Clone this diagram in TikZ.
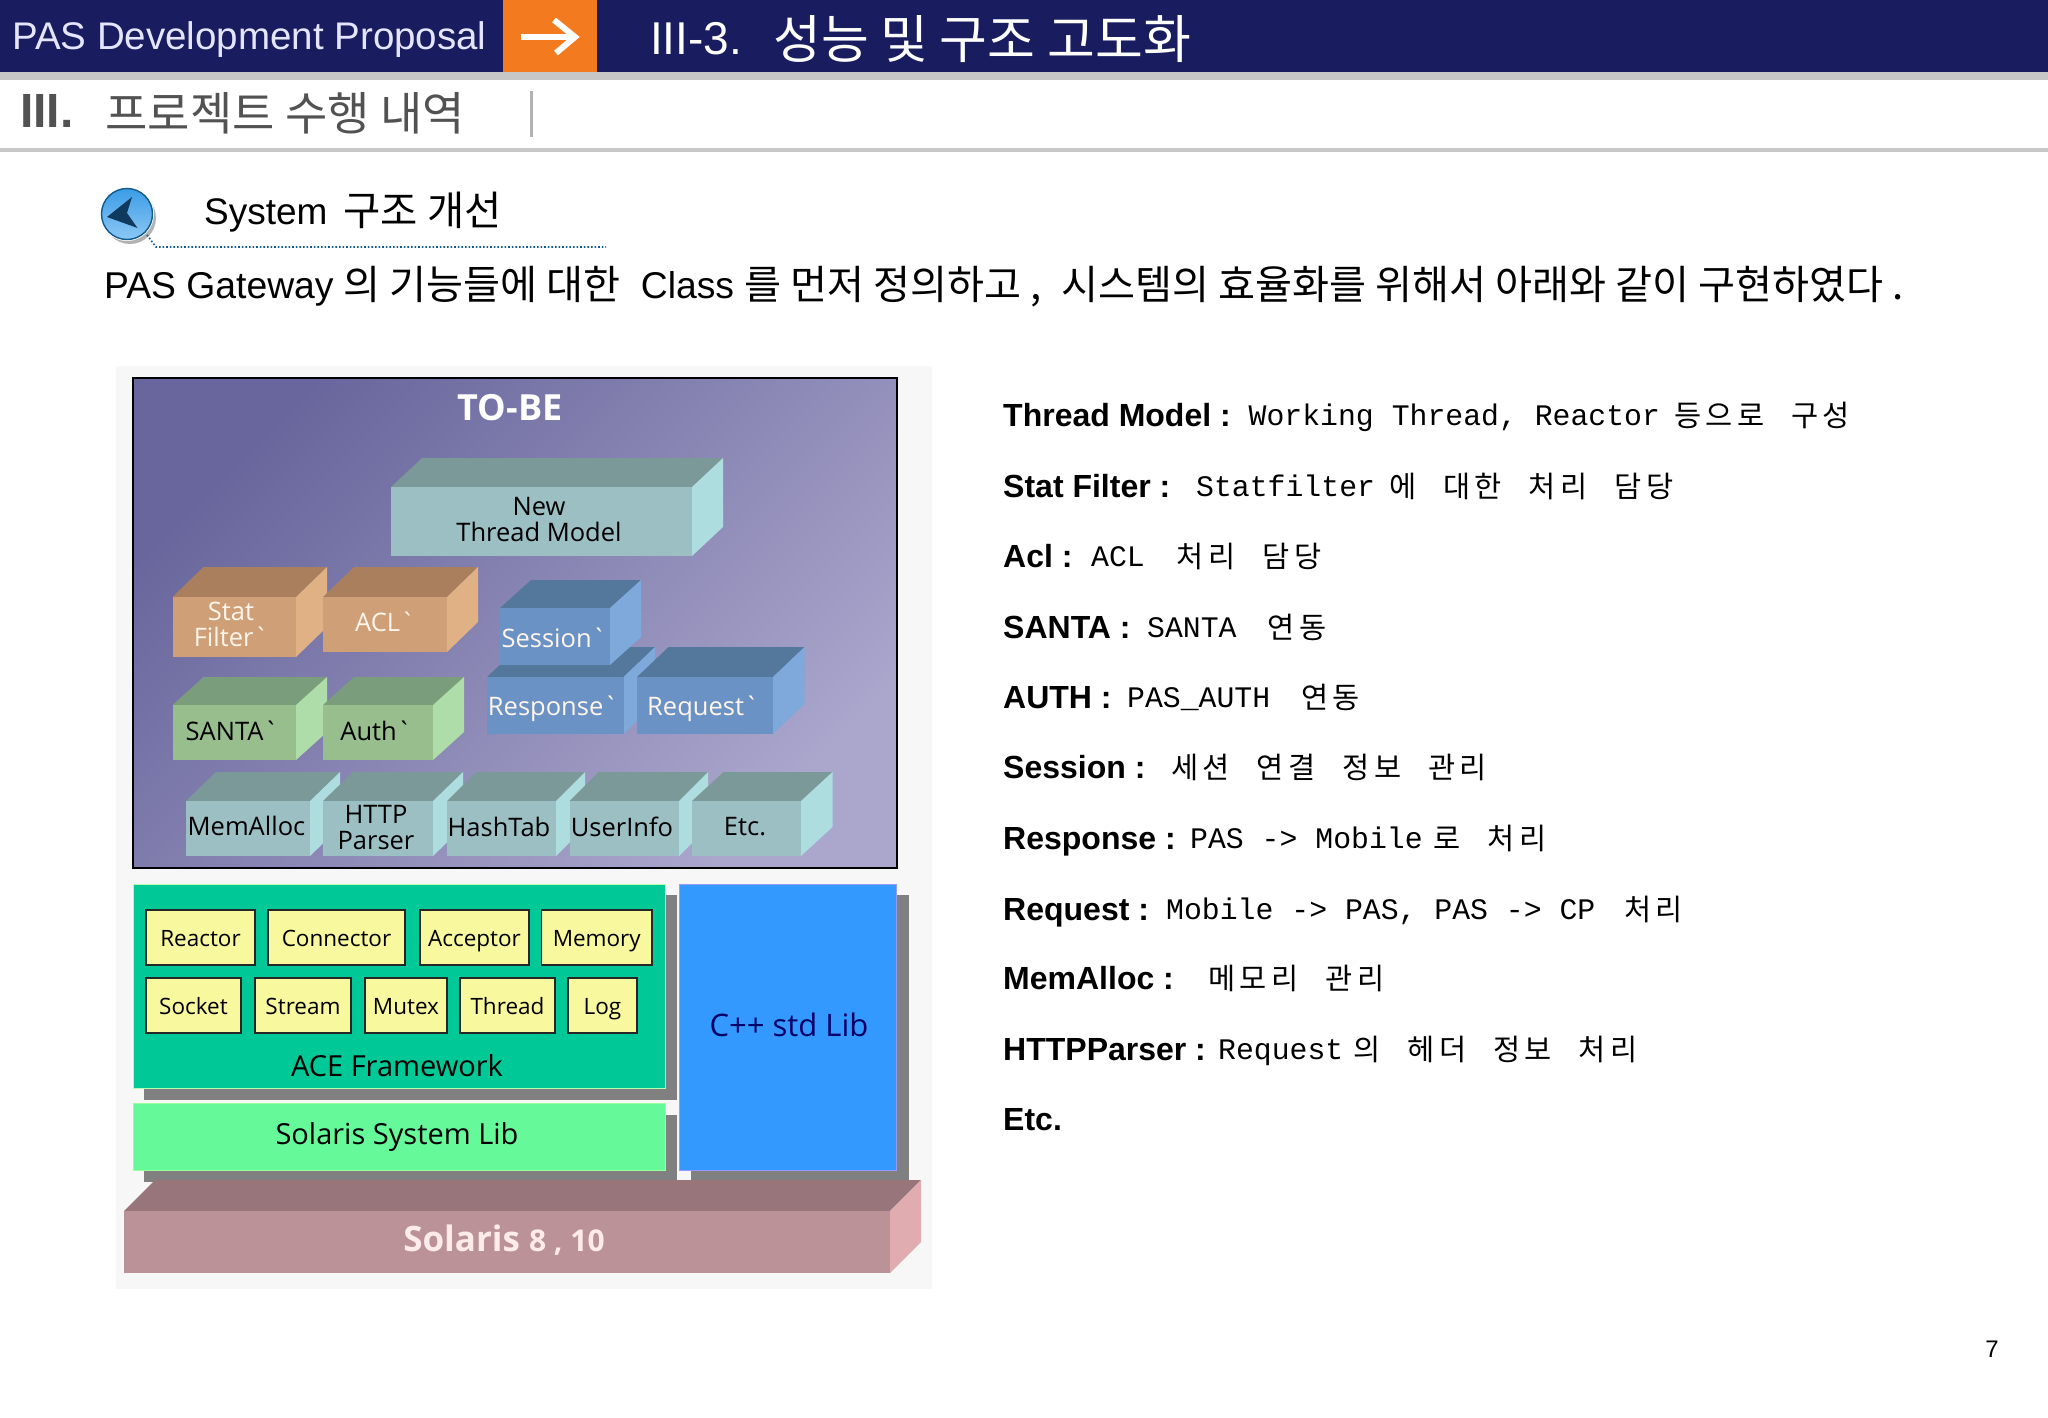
\documentclass[tikz,border=0pt]{standalone}
\usepackage{fontspec}
\setmainfont{Liberation Sans}
\newfontfamily\ar{Liberation Sans}
\newfontfamily\kr{Noto Sans CJK KR}
\newfontfamily\krl[LetterSpace=15]{Noto Sans CJK KR}
\newfontfamily\mon{Liberation Mono}
\newfontfamily\dia{Open Sans}
\definecolor{navy}{HTML}{191C5E}
\definecolor{orng}{HTML}{F47A1F}
\definecolor{tealF}{HTML}{9CBFC3}\definecolor{tealT}{HTML}{7A9998}\definecolor{tealS}{HTML}{AEDDE0}
\definecolor{tanF}{HTML}{CF9F78}\definecolor{tanT}{HTML}{A97F5E}\definecolor{tanS}{HTML}{E0B184}
\definecolor{bluF}{HTML}{6B92C4}\definecolor{bluT}{HTML}{54789C}\definecolor{bluS}{HTML}{7FA8DB}
\definecolor{grnF}{HTML}{98BE8E}\definecolor{grnT}{HTML}{7A9D7C}\definecolor{grnS}{HTML}{AEDDAA}
\definecolor{rosF}{HTML}{BC9299}\definecolor{rosT}{HTML}{98757B}\definecolor{rosS}{HTML}{E0ACB0}
\definecolor{frameA}{RGB}{104,102,156}\definecolor{frameB}{RGB}{170,166,204}
\definecolor{iconA}{HTML}{3C9CE6}\definecolor{iconB}{HTML}{8CC8F5}\definecolor{iconD}{HTML}{0F3A5E}\definecolor{iconE}{HTML}{0F5C8C}
\definecolor{aceG}{RGB}{0,200,150}\definecolor{solG}{RGB}{102,249,154}\definecolor{cppB}{RGB}{51,153,255}
\definecolor{yelF}{HTML}{F8F89E}
\newcommand{\fsz}[1]{\fontsize{#1pt}{#1pt}\selectfont}
\newcommand{\threed}[8]{% name x1 y1 x2 y2 xback yback family
  \pgfmathsetmacro{\dxx}{#6-#4}
  \pgfmathsetmacro{\xa}{#2+\dxx}
  \pgfmathsetmacro{\yb}{#5+#7-#3}
  \fill[#8T] (#2,#3) -- (\xa,#7) -- (#6,#7) -- (#4,#3) -- cycle;
  \fill[#8S] (#4,#3) -- (#6,#7) -- (#6,\yb) -- (#4,#5) -- cycle;
  \fill[#8F] (#2,#3) rectangle (#4,#5);
  \coordinate (#1) at ({(#2+#4)/2},{(#3+#5)/2});
}
\newcommand{\kd}[1]{\raisebox{-1pt}{\krl\fsz{29.5}#1}}
\newcommand{\wg}{\hspace{27pt}}
\tikzset{
  lbl/.style={font=\dia\fsz{25.5},inner sep=0pt,text=black,align=center},
  lblw/.style={lbl,text=white!92!orange},
  ylbl/.style={font=\dia\fsz{22.5},inner sep=0pt,text=black,text height=17pt,text depth=5pt},
  rowb/.style={anchor=base west,inner sep=0pt,font=\ar\bfseries\fsz{32}},
  rowd/.style={anchor=base west,inner sep=0pt,font=\mon\fsz{29.8}},
  shad/.style={fill=black!50},
}
\begin{document}
\begin{tikzpicture}[x=1pt,y=-1pt]
\useasboundingbox (0,0) rectangle (2048,1418);
\fill[white] (0,0) rectangle (2048,1418);
% header
\fill[navy] (0,0) rectangle (2048,72);
\fill[black!22] (0,72) rectangle (2048,80);
\fill[orng] (503,0) rectangle (597,72);
\draw[white,line width=6pt] (521,37) -- (574,37);
\draw[white,line width=6pt] (554,20) -- (575,37) -- (556,53);
\node[anchor=west,inner sep=0pt,text=white!90!blue,font=\ar\fsz{38.5}] (hdr) at (12,40) {PAS Development Proposal};
\node[anchor=west,inner sep=0pt,text=white,font=\ar\fsz{46}] (ttl) at (650,39) {III-3.\hspace{31pt}\raisebox{-3.5pt}{\kr\fsz{52}성능 및 구조 고도화}};
\node[anchor=west,inner sep=0pt,text=black!68,font=\ar\bfseries\fsz{48}] (sec) at (20,113) {III.\hspace{32pt}\raisebox{-3pt}{\kr\mdseries\fsz{46}프로젝트 수행 내역}};
\fill[black!30] (529.5,91) rectangle (533,137);
\fill[black!22] (0,148) rectangle (2048,152);
% icon
\fill[black!30] (130,218) circle (26);
\fill[white] (127,214) circle (27);
\draw[iconE,line width=1.4pt,top color=iconA,bottom color=iconB] (127,214) circle (25.5);
\fill[iconD] (132,197) -- (107,217) -- (137.5,228) -- (127,213) -- cycle;
\draw[iconE,line width=1.6pt,dotted] (147,235) -- (156,247) -- (606,247);
\node[anchor=base west,inner sep=0pt,font=\ar\fsz{37}] (sub) at (204,224) {System\hspace{16pt}\raisebox{-1.5pt}{\kr\fsz{40.5}구조 개선}};
\node[anchor=base west,inner sep=0pt,font=\ar\fsz{37.3}] (intro) at (104,298) {PAS Gateway \raisebox{-1.5pt}{\kr\fsz{40.2}의 기능들에 대한}\hspace{20pt}Class \raisebox{-1.5pt}{\kr\fsz{40.2}를 먼저 정의하고 ,\hspace{20pt}시스템의 효율화를 위해서 아래와 같이 구현하였다 .}};
% panel
\fill[black!3] (116,366) rectangle (932,1289);
\fill[top color=frameA,bottom color=frameB,shading angle=45] (133,378) rectangle (897,868);
\draw[black,line width=1.6pt] (133,378) rectangle (897,868);
\node[font=\dia\bfseries\fsz{36},text=white,inner sep=0pt] (tobe) at (510,408) {TO-BE};
\threed{bThread}{391}{487}{692}{556}{723}{458}{teal}
\threed{bStat}{172.5}{597}{296}{657}{327}{567}{tan}
\threed{bAcl}{323}{597}{447}{652}{478}{567}{tan}
\threed{bResp}{487}{677}{623.5}{734}{655}{647}{blu}
\threed{bReq}{637}{677}{773}{734}{804.5}{647}{blu}
\threed{bSess}{500}{608}{610}{665}{641}{580}{blu}
\threed{bSanta}{172.5}{705}{296}{760}{327}{677}{grn}
\threed{bAuth}{323}{705}{433}{760}{464}{677}{grn}
\threed{bMem}{186}{801}{310}{856}{340}{772}{teal}
\threed{bHttp}{323}{801}{433}{856}{463}{772}{teal}
\threed{bHash}{447}{801}{556}{856}{585}{772}{teal}
\threed{bUser}{569.5}{801}{679}{856}{708}{772}{teal}
\threed{bEtc}{692}{801}{801}{856}{832.5}{772}{teal}
\node[lbl] (tNew) at (539,519.5) {New\\Thread Model};
\node[lblw] (tStat) at (231,624.5) {Stat\\Filter`};
\node[lblw] (tAcl) at (385,622) {ACL`};
\node[lblw] (tSess) at (554,638) {Session`};
\node[lblw] (tResp) at (553,709) {Response`};
\node[lblw] (tReq) at (703,709) {Request`};
\node[lbl] (tSanta) at (232,731) {SANTA`};
\node[lbl] (tAuth) at (376,731) {Auth`};
\node[lbl] (tMem) at (246.5,826) {MemAlloc};
\node[lbl] (tHttp) at (376,827.5) {HTTP\\Parser};
\node[lbl] (tHash) at (499,827) {HashTab};
\node[lbl] (tUser) at (622,827) {UserInfo};
\node[lbl] (tEtc) at (745,827) {Etc.};
% lower stack
\fill[shad] (144,895) rectangle (676.5,1100);
\fill[shad] (144,1115) rectangle (676.5,1182);
\fill[shad] (691,895) rectangle (909,1182);
\draw[white!70!green,line width=1pt,fill=aceG] (133.5,884) rectangle (665,1088);
\draw[white!60!green,line width=1pt,fill=solG] (133.5,1103) rectangle (665,1170);
\draw[white!60!blue,line width=1pt,fill=cppB] (679,884) rectangle (896,1170);
\threed{bSol}{124}{1211}{890}{1273}{921}{1180}{ros}
\foreach \nm/\xa/\xb/\ya/\yb/\tx in {yReact/146/255/910/965/Reactor,yConn/268/405/910/965/Connector,yAcc/420/529/910/965/Acceptor,yMemo/541.5/652/910/965/Memory,ySock/146/241/978/1033/Socket,yStre/255/351/978/1033/Stream,yMutx/365/447/978/1033/Mutex,yThrd/460/555/978/1033/Thread,yLog/568/637/978/1033/Log}{
  \draw[draw=black!85,line width=1.4pt,fill=yelF] (\xa,\ya) rectangle (\xb,\yb);
  \node[ylbl] (\nm) at ({(\xa+\xb)/2},{(\ya+\yb)/2+3}) {\tx};
}
\node[lbl,font=\dia\fsz{29}] (tAce) at (397,1066) {ACE Framework};
\node[lbl,font=\dia\fsz{29}] (tSsl) at (397,1137) {Solaris System Lib};
\node[lbl,font=\dia\fsz{31},text=blue!40!black] (tCpp) at (789,1025) {C++ std Lib};
\node[lbl,font=\dia\bfseries\fsz{35},text=white!92!red] (tSol) at (504,1240) {Solaris {\fsz{30}8 , 10}};
% right column
\node[rowb] (r1) at (1003,426) {Thread Model :};
\node[rowd] (d1) at (1248.5,425) {Working Thread, Reactor\hspace{14pt}\kd{등으로\wg 구성}};
\node[rowb] (r2) at (1003,497) {Stat Filter :};
\node[rowd] (d2) at (1196,496) {Statfilter\hspace{14pt}\kd{에\wg 대한\wg 처리\wg 담당}};
\node[rowb] (r3) at (1003,567) {Acl :};
\node[rowd] (d3) at (1091,566) {ACL\hspace{32pt}\kd{처리\wg 담당}};
\node[rowb] (r4) at (1003,638) {SANTA :};
\node[rowd] (d4) at (1147,637) {SANTA\hspace{31pt}\kd{연동}};
\node[rowb] (r5) at (1003,708) {AUTH :};
\node[rowd] (d5) at (1127,707) {PAS\_AUTH\hspace{31pt}\kd{연동}};
\node[rowb] (r6) at (1003,778) {Session :};
\node[rowd] (d6) at (1171,777) {\kd{세션\wg 연결\wg 정보\wg 관리}};
\node[rowb] (r7) at (1003,849) {Response :};
\node[rowd] (d7) at (1190,848) {PAS -> Mobile\hspace{11pt}\kd{로\wg 처리}};
\node[rowb] (r8) at (1003,920) {Request :};
\node[rowd] (d8) at (1166,919) {Mobile -> PAS, PAS -> CP\hspace{29pt}\kd{처리}};
\node[rowb] (r9) at (1003,989) {MemAlloc :};
\node[rowd] (d9) at (1208,988) {\kd{메모리\wg 관리}};
\node[rowb] (r10) at (1003,1060) {HTTPParser :};
\node[rowd] (d10) at (1218,1059) {Request\hspace{10pt}\kd{의\wg 헤더\wg 정보\wg 처리}};
\node[rowb] (r11) at (1003,1130) {Etc.};
\node[font=\ar\fsz{24},inner sep=0pt] (pg) at (1992,1349) {7};
\end{tikzpicture}
\end{document}
